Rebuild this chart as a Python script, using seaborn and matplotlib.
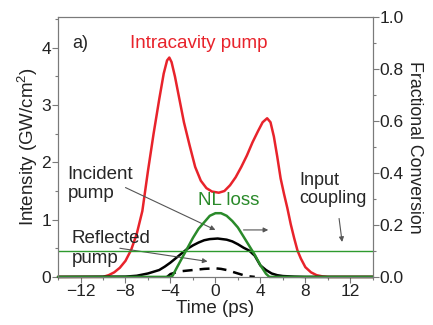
import matplotlib
matplotlib.use('Agg')
import matplotlib.pyplot as plt
import seaborn as sns

# values
t_pump = [-14, -10, -9.5, -9, -8.5, -8, -7.5, -7, -6.5, -6, -5.5, -5, -4.6, -4.3, -4.1,
          -3.9, -3.6, -3.2, -2.8, -2.3, -1.8, -1.3, -0.8, -0.3, 0.3, 0.8, 1.3, 1.8,
          2.3, 2.8, 3.3, 3.8, 4.2, 4.6, 4.9, 5.2, 5.5, 5.8, 6.1, 6.4, 6.7, 7.0, 7.3,
          7.6, 8.0, 8.5, 9.0, 9.5, 10, 14]
intracavity = [0, 0, 0.03, 0.08, 0.16, 0.28, 0.47, 0.75, 1.15, 1.85, 2.5, 3.1, 3.55, 3.78, 3.83,
               3.75, 3.5, 3.1, 2.7, 2.3, 1.92, 1.68, 1.55, 1.49, 1.47, 1.5, 1.6, 1.74,
               1.92, 2.12, 2.35, 2.55, 2.7, 2.77, 2.7, 2.45, 2.1, 1.72, 1.45, 1.2, 0.92, 0.68, 0.46,
               0.32, 0.17, 0.08, 0.03, 0.01, 0, 0]

t_inc = [-14, -8, -7, -6, -5, -4.5, -4, -3.5, -3, -2.5, -2, -1.5, -1, -0.5, 0.2, 1, 1.5,
         2, 2.5, 3, 3.5, 4, 4.5, 5, 5.5, 6, 7, 8, 14]
incident = [0, 0.005, 0.02, 0.06, 0.12, 0.18, 0.25, 0.33, 0.41, 0.49, 0.55, 0.6, 0.64, 0.66, 0.67, 0.65, 0.62,
            0.57, 0.51, 0.46, 0.37, 0.2, 0.12, 0.06, 0.03, 0.015, 0.005, 0, 0]

t_refl = [-4.3, -4, -3.5, -3, -2, -1, 0, 0.5, 1, 1.5, 2, 2.5, 3, 3.5]
reflected = [0, 0.05, 0.08, 0.1, 0.12, 0.14, 0.15, 0.14, 0.12, 0.09, 0.06, 0.03, 0.01, 0]

# NL loss and input coupling on the fractional conversion axis
t_nl = [-14, -4, -3.8, -3.5, -3, -2.5, -2, -1.5, -1, -0.5, 0, 0.5, 1, 1.5, 2, 2.5, 3, 3.5,
        4, 4.5, 4.8, 14]
nl_loss = [0, 0, 0.005, 0.03, 0.07, 0.11, 0.15, 0.185, 0.21, 0.235, 0.245, 0.245, 0.235, 0.215,
           0.19, 0.155, 0.12, 0.085, 0.045, 0.012, 0, 0]
input_coupling = 0.1

red = '#e8232b'
green = '#2a8a2a'
grey = '#7a7a7a'

sns.set_style('ticks')
plt.rcParams['font.family'] = ['Liberation Sans', 'DejaVu Sans']
plt.rcParams['mathtext.fontset'] = 'custom'
plt.rcParams['mathtext.rm'] = 'Liberation Sans'

fig = plt.figure(figsize=(4.33, 3.25), dpi=100)
ax = fig.add_axes([0.134, 0.148, 0.727, 0.80])
ax2 = ax.twinx()

sns.lineplot(x=t_pump, y=intracavity, ax=ax, color=red, lw=1.8, clip_on=False)
sns.lineplot(x=t_inc, y=incident, ax=ax, color='black', lw=1.8, clip_on=False)
sns.lineplot(x=t_refl, y=reflected, ax=ax, color='black', lw=1.8, linestyle=(0, (4, 2.8)))
sns.lineplot(x=t_nl, y=nl_loss, ax=ax2, color=green, lw=1.8, clip_on=False)
ax2.axhline(input_coupling, color='#2e9a2e', lw=1.0)

ax.set_xlim(-14, 14)
ax.set_ylim(0, 4.54)
ax2.set_ylim(0, 1.0)

ax.set_xticks([-12, -8, -4, 0, 4, 8, 12])
ax.set_xticks(range(-14, 15, 2), minor=True)
ax.set_yticks([0, 1, 2, 3, 4])
ax.set_yticks([0.5 * i for i in range(10)], minor=True)
ax2.set_yticks([0, 0.2, 0.4, 0.6, 0.8, 1.0])
ax2.set_yticks([0.1 * i for i in range(11)], minor=True)
ax2.set_yticklabels(['0.0', '0.2', '0.4', '0.6', '0.8', '1.0'])

for a in (ax, ax2):
    a.tick_params(which='major', length=4, width=0.8, color=grey, labelsize=12.5, labelcolor='#222222', pad=1)
    a.tick_params(which='minor', length=2.5, width=0.8, color=grey)
    for s in a.spines.values():
        s.set_color(grey)
        s.set_linewidth(0.8)

ax.set_xlabel('Time (ps)', fontsize=13.5, labelpad=1, color='#222222')
ax.set_ylabel('Intensity (GW/cm$^2$)', fontsize=13.5, labelpad=1, color='#222222')
ax2.set_ylabel('Fractional Conversion', fontsize=12.8, rotation=270, labelpad=14, color='#222222')

ax.text(-12.7, 4.08, 'a)', fontsize=13, va='center', ha='left')
ax.text(-1.5, 4.07, 'Intracavity pump', fontsize=13.5, color=red, va='center', ha='center')
ax.text(1.2, 1.34, 'NL loss', fontsize=13.5, color=green, va='center', ha='center')
ax.text(-13.15, 1.62, 'Incident\npump', fontsize=13.5, va='center', ha='left', linespacing=1.2)
ax.text(-12.8, 0.5, 'Reflected\npump', fontsize=13.5, va='center', ha='left', linespacing=1.25)
ax.text(7.5, 1.53, 'Input\ncoupling', fontsize=13, va='center', ha='left', linespacing=1.1)

arrow = dict(arrowstyle='-|>', color='#555555', lw=0.8, mutation_scale=7, shrinkA=0, shrinkB=0)
ax.annotate('', xy=(0, 0.82), xytext=(-8.0, 1.56), arrowprops=arrow)
ax.annotate('', xy=(-0.7, 0.27), xytext=(-8.5, 0.5), arrowprops=arrow)
ax.annotate('', xy=(4.7, 0.82), xytext=(2.5, 0.82), arrowprops=arrow)
ax.annotate('', xy=(11.27, 0.61), xytext=(11.0, 1.02), arrowprops=arrow)

fig.savefig('out.png', dpi=100)
